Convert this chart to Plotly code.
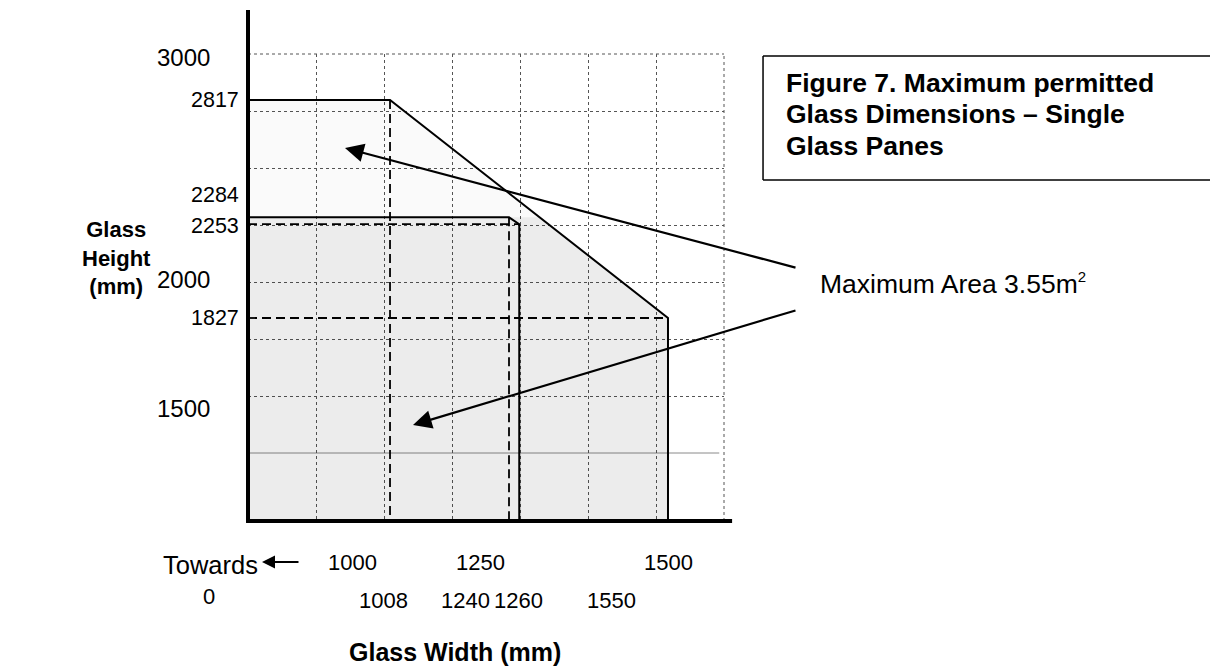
import numpy as np
import plotly.graph_objects as go

# ---------------- data (mm) ----------------
outer_widths = [1008, 1550]      # width at end of max-height plateau, max width
outer_heights = [2817, 1827]     # max height, height at max width
inner_widths = [1240, 1260]      # width at end of lower plateau, max width (lower limit)
inner_heights = [2284, 2253]     # lower plateau height, height at max width (lower limit)

y_labels_round = [3000, 2000, 1500]
y_labels_exact = [2817, 2284, 2253, 1827]
x_labels_round = [1000, 1250, 1500]
x_labels_exact = [1008, 1240, 1260, 1550]

area_label = "Maximum Area 3.55m<sup><span style='font-size:15px'>2</span></sup>"
title_lines = ["Figure 7. Maximum permitted", "Glass Dimensions \u2013 Single", "Glass Panes"]

# ---------------- axes (schematic window, axis truncated "towards 0") ----------------
x_lo, x_hi = 731.1, 1659.2
y_lo, y_hi = 905.1, 3025.9
FONT = "Liberation Sans, Arial, sans-serif"

W1, W2 = outer_widths
H1, H2 = outer_heights
w1, w2 = inner_widths
h1, h2 = inner_heights

# where the sloping outer limit crosses the lower plateau height
x_cross = float(np.interp(h1, [H2, H1], [W2, W1]))

fig = go.Figure()

# light fill under outer envelope
fig.add_trace(go.Scatter(
    x=[x_lo, W1, W2, W2, x_lo], y=[H1, H1, H2, y_lo, y_lo],
    fill="toself", fillcolor="rgba(0,0,0,0.02)", line=dict(width=0),
    mode="lines", hoverinfo="skip", showlegend=False))
# grey fill below the lower plateau
fig.add_trace(go.Scatter(
    x=[x_lo, x_cross, W2, W2, x_lo], y=[h1, h1, H2, y_lo, y_lo],
    fill="toself", fillcolor="rgba(0,0,0,0.056)", line=dict(width=0),
    mode="lines", hoverinfo="skip", showlegend=False))

# dashed construction lines
dash_x = [W1, W1, None, x_lo, w2, None, w1, w1, None, x_lo, W2]
dash_y = [H1, y_lo, None, h2, h2, None, h1, y_lo, None, H2, H2]
fig.add_trace(go.Scatter(
    x=dash_x, y=dash_y, mode="lines",
    line=dict(color="black", width=1.8, dash="9px,5px"),
    hoverinfo="skip", showlegend=False))

# solid limit lines
fig.add_trace(go.Scatter(
    x=[x_lo, W1, W2, W2], y=[H1, H1, H2, y_lo], mode="lines",
    line=dict(color="black", width=2), hoverinfo="skip", showlegend=False))
fig.add_trace(go.Scatter(
    x=[x_lo, w1, w2, w2], y=[h1, h1, h2, y_lo], mode="lines",
    line=dict(color="black", width=2), hoverinfo="skip", showlegend=False))

# grid (regular schematic grid, 7 columns x ~8 rows)
gx_step = (x_hi - x_lo) / 7
gy_step = 57 / 467 * (y_hi - y_lo)
grid_x = [x_lo + gx_step * i for i in range(1, 7)]
grid_y = [y_hi - gy_step * i for i in range(1, 7)]
grid_y_last = y_hi - gy_step * 7   # drawn as a thin solid grey rule in the original

axis_common = dict(showticklabels=False, ticks="", showline=False, zeroline=False,
                   showgrid=True, gridcolor="#555", gridwidth=1, griddash="dot",
                   tickmode="array", fixedrange=True)
fig.update_xaxes(range=[x_lo, x_hi], tickvals=grid_x, **axis_common)
fig.update_yaxes(range=[y_lo, y_hi], tickvals=grid_y, **axis_common)

box_line = dict(color="black", width=1.5)
shapes = [
    # grid border (top and right)
    dict(type="line", xref="paper", yref="paper", x0=0, x1=1, y0=1, y1=1,
         line=dict(color="#555", width=1, dash="dot"), layer="below"),
    dict(type="line", xref="paper", yref="paper", x0=1, x1=1, y0=0, y1=1,
         line=dict(color="#555", width=1, dash="dot"), layer="below"),
    dict(type="line", xref="paper", yref="y", x0=0, x1=0.99, y0=grid_y_last, y1=grid_y_last,
         line=dict(color="#8a8a8a", width=1), layer="below"),
    # heavy axis lines
    dict(type="line", xref="paper", yref="paper", x0=0, x1=0, y0=-0.004, y1=1.094,
         line=dict(color="black", width=4), layer="above"),
    dict(type="line", xref="paper", yref="paper", x0=-0.004, x1=1.017, y0=0, y1=0,
         line=dict(color="black", width=4), layer="above"),
    # caption box (open to the right page edge)
    dict(type="line", xref="paper", yref="paper", x0=1.082, x1=2.2, y0=0.9957, y1=0.9957,
         line=box_line),
    dict(type="line", xref="paper", yref="paper", x0=1.082, x1=2.2, y0=0.730, y1=0.730,
         line=box_line),
    dict(type="line", xref="paper", yref="paper", x0=1.082, x1=1.082, y0=0.730, y1=0.9957,
         line=box_line),
]

ann = []
# y labels
y_round_shift = {3000: 2, 2000: 0, 1500: -18}
for v in y_labels_round:
    ann.append(dict(x=0, xref="paper", y=v, yref="y", text=str(v), showarrow=False,
                    xanchor="right", yanchor="middle", xshift=-36, yshift=y_round_shift[v],
                    font=dict(size=24, color="black", family=FONT)))
y_exact_shift = {2817: 0, 2284: 22, 2253: -2, 1827: 0}
for v in y_labels_exact:
    ann.append(dict(x=0, xref="paper", y=v, yref="y", text=str(v), showarrow=False,
                    xanchor="right", yanchor="middle", xshift=-7, yshift=y_exact_shift[v],
                    font=dict(size=21.5, color="black", family=FONT)))
# x labels
x_round_shift = {1000: -33, 1250: -34, 1500: 26}
for v in x_labels_round:
    ann.append(dict(x=v, xref="x", y=-0.0899, yref="paper", text=str(v), showarrow=False,
                    xanchor="center", yanchor="middle", xshift=x_round_shift[v],
                    font=dict(size=22, color="black", family=FONT)))
x_exact_shift = {1008: -7, 1240: -44, 1260: -1, 1550: -56}
for v in x_labels_exact:
    ann.append(dict(x=v, xref="x", y=-0.1713, yref="paper", text=str(v), showarrow=False,
                    xanchor="center", yanchor="middle", xshift=x_exact_shift[v],
                    font=dict(size=22, color="black", family=FONT)))

# "Towards 0" with arrow
ann.append(dict(x=-0.0798, xref="paper", y=-0.0942, yref="paper", text="Towards",
                showarrow=False, xanchor="center", yanchor="middle",
                font=dict(size=25.5, color="black", family=FONT)))
ann.append(dict(x=-0.082, xref="paper", y=-0.1606, yref="paper", text="0",
                showarrow=False, xanchor="center", yanchor="middle",
                font=dict(size=22, color="black", family=FONT)))
ann.append(dict(x=0.0294, xref="paper", y=-0.0878, yref="paper", text="",
                showarrow=True, ax=38, ay=0, arrowhead=2, arrowsize=1.3, arrowwidth=2,
                arrowcolor="black"))

# axis titles
ann.append(dict(x=-0.277, xref="paper", y=0.563, yref="paper",
                text="<b>Glass<br>Height<br>(mm)</b>", showarrow=False, align="center",
                xanchor="center", yanchor="middle",
                font=dict(size=22, color="black", family=FONT)))
ann.append(dict(x=0.4349, xref="paper", y=-0.2805, yref="paper",
                text="<b>Glass Width (mm)</b>", showarrow=False,
                xanchor="center", yanchor="middle",
                font=dict(size=25, color="black", family=FONT)))

# caption (one annotation per line for tighter line spacing)
for line, yp in zip(title_lines, [0.938, 0.8715, 0.803]):
    ann.append(dict(x=1.126, xref="paper", y=yp, yref="paper", text="<b>" + line + "</b>",
                    showarrow=False, xanchor="left", yanchor="middle", align="left",
                    font=dict(size=26.5, color="black", family=FONT)))

# area label + pointer arrows
ann.append(dict(x=1.1975, xref="paper", y=0.5096, yref="paper", text=area_label,
                showarrow=False, xanchor="left", yanchor="middle",
                font=dict(size=26.5, color="black", family=FONT)))
ann.append(dict(x=0.2038, xref="paper", y=0.7987, yref="paper", text="",
                showarrow=True, ax=452, ay=120, arrowhead=2, arrowsize=1.7,
                arrowwidth=2.2, arrowcolor="black"))
ann.append(dict(x=0.3466, xref="paper", y=0.2056, yref="paper", text="",
                showarrow=True, ax=384, ay=-115, arrowhead=2, arrowsize=1.7,
                arrowwidth=2.2, arrowcolor="black"))

# page body has an 8px margin, so the figure is offset by (8, 8) in the window
fig.update_layout(
    width=1210, height=658, autosize=False,
    margin=dict(l=240, r=494, t=46, b=145),
    paper_bgcolor="white", plot_bgcolor="white",
    shapes=shapes, annotations=ann, showlegend=False,
    font=dict(family=FONT, color="black"),
)

fig.write_html("out.html")
